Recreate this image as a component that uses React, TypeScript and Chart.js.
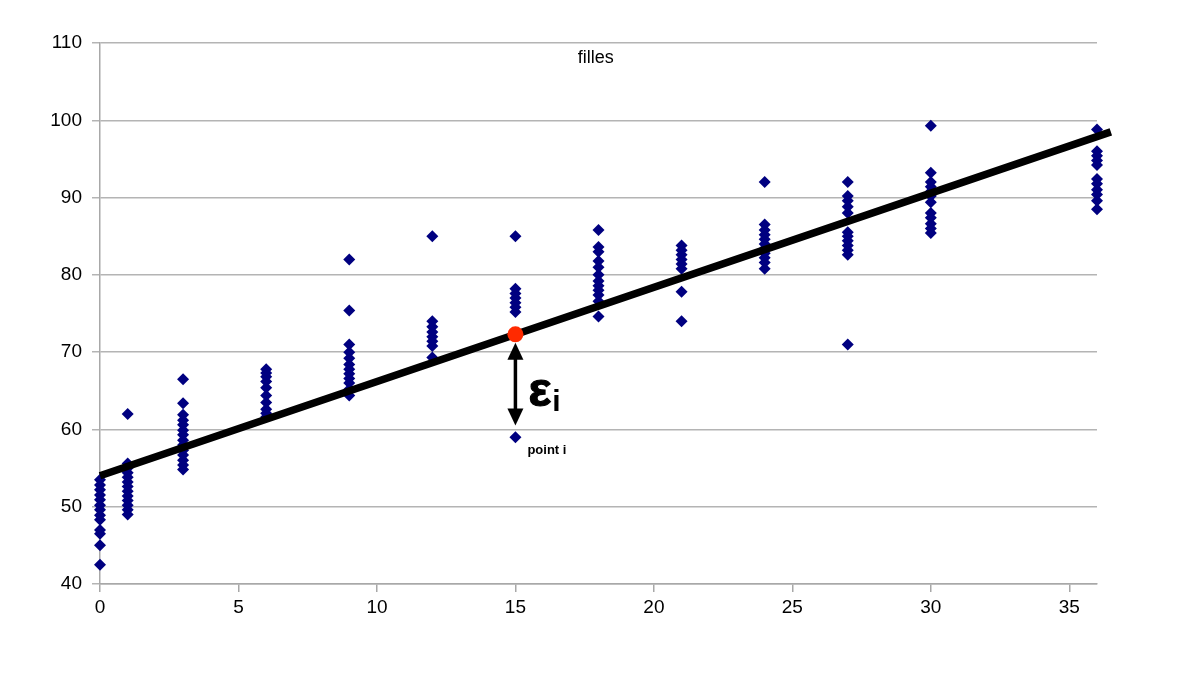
import React, { useEffect, useRef } from "react";
import { Chart, registerables } from "chart.js";

Chart.register(...registerables);

// ---- Data ----
const xLevels = [0, 1, 3, 6, 9, 12, 15, 18, 21, 24, 27, 30, 36];
const col0 = [53.5, 52.8, 52.2, 51.5, 50.9, 50.2, 49.6, 48.9, 48.3, 47.0, 46.5, 45.0, 42.5];
const col1 = [62.0, 55.6, 55.0, 54.4, 53.8, 53.2, 52.6, 52.0, 51.4, 50.8, 50.2, 49.6, 49.0];
const col3 = [66.5, 63.4, 61.9, 61.2, 60.6, 59.9, 59.3, 58.6, 58.0, 57.3, 56.7, 56.0, 55.4, 54.8];
const col6 = [67.8, 67.3, 66.8, 66.2, 65.4, 64.4, 63.5, 62.6, 62.1, 61.6];
const col9 = [82.0, 75.4, 71.0, 70.0, 69.2, 68.4, 67.8, 67.2, 66.6, 66.0, 65.2, 64.4];
const col12 = [85.0, 74.0, 73.3, 72.6, 72.0, 71.4, 70.8, 69.3];
const col15 = [85.0, 78.2, 77.6, 77.0, 76.4, 75.8, 75.2, 59.0];
const col18 = [85.8, 83.6, 83.0, 81.8, 81.0, 80.0, 79.2, 78.6, 78.0, 77.4, 76.6, 74.6];
const col21 = [83.8, 83.2, 82.6, 82.0, 81.4, 80.8, 77.8, 74.0];
const col24 = [92.0, 86.5, 85.8, 85.2, 84.6, 84.0, 83.4, 82.8, 82.2, 81.6, 80.8];
const col27 = [92.0, 90.2, 89.6, 88.8, 88.0, 85.5, 85.0, 84.4, 83.8, 83.2, 82.6, 71.0];
const col30 = [99.3, 93.2, 92.0, 91.4, 90.8, 90.2, 89.4, 88.0, 87.4, 86.6, 86.0, 85.4];
const col36 = [98.8, 96.0, 95.4, 94.8, 94.2, 92.4, 91.8, 91.0, 90.4, 89.6, 88.5];
const columns = [col0, col1, col3, col6, col9, col12, col15, col18, col21, col24, col27, col30, col36];

// regression line endpoints
const lineX = [0, 36.5];
const lineY = [54.0, 98.5];

// highlighted point on the line and the residual arrow
const fitPointX = [15];
const fitPointY = [72.3];
const arrowTopY = 71.2;
const arrowBottomY = 60.5;

const chartTitle = "filles";
const epsLabel = "ε";
const epsSub = "i";
const pointLabel = "point i";

const xTickValues = [0, 5, 10, 15, 20, 25, 30, 35];

const FONT = "'Liberation Sans', Arial, sans-serif";

const annotationPlugin = {
  id: "annotations",
  afterDatasetsDraw(chart: any) {
    const { ctx, scales } = chart;
    const xs = scales.x;
    const ys = scales.y;
    const px = xs.getPixelForValue(fitPointX[0]);
    const yTop = ys.getPixelForValue(arrowTopY);
    const yBot = ys.getPixelForValue(arrowBottomY);
    ctx.save();
    ctx.strokeStyle = "#000";
    ctx.fillStyle = "#000";
    ctx.lineWidth = 3.5;
    ctx.beginPath();
    ctx.moveTo(px, yTop + 12);
    ctx.lineTo(px, yBot - 12);
    ctx.stroke();
    ctx.beginPath();
    ctx.moveTo(px, yTop);
    ctx.lineTo(px - 8, yTop + 17);
    ctx.lineTo(px + 8, yTop + 17);
    ctx.closePath();
    ctx.fill();
    ctx.beginPath();
    ctx.moveTo(px, yBot);
    ctx.lineTo(px - 8, yBot - 17);
    ctx.lineTo(px + 8, yBot - 17);
    ctx.closePath();
    ctx.fill();
    const midY = (yTop + yBot) / 2;
    ctx.textBaseline = "alphabetic";
    ctx.textAlign = "left";
    ctx.font = `bold 48px ${FONT}`;
    ctx.lineWidth = 1.2;
    ctx.fillText(epsLabel, px + 13, midY + 22);
    ctx.strokeText(epsLabel, px + 13, midY + 22);
    const w = ctx.measureText(epsLabel).width;
    ctx.font = `bold 30px ${FONT}`;
    ctx.fillText(epsSub, px + 13 + w + 1, midY + 27);
    const py = ys.getPixelForValue(col15[col15.length - 1]);
    ctx.font = `bold 13px ${FONT}`;
    ctx.fillText(pointLabel, px + 12, py + 17);
    ctx.font = `18px ${FONT}`;
    ctx.textAlign = "center";
    ctx.fillText(chartTitle, xs.getPixelForValue(17.9), ys.getPixelForValue(110) + 20);
    ctx.restore();
  },
};

export default function App() {
  const ref = useRef<HTMLCanvasElement>(null);
  useEffect(() => {
    document.body.style.margin = "0";
    const scatterPts: { x: number; y: number }[] = [];
    xLevels.forEach((x, i) => columns[i].forEach((y) => scatterPts.push({ x, y })));
    const chart = new Chart(ref.current!, {
      type: "scatter",
      data: {
        datasets: [
          {
            type: "scatter",
            data: fitPointX.map((x, i) => ({ x, y: fitPointY[i] })),
            pointStyle: "circle",
            pointRadius: 8,
            backgroundColor: "#ff2a00",
            borderWidth: 0,
            clip: false,
            order: 0,
          } as any,
          {
            type: "line",
            data: lineX.map((x, i) => ({ x, y: lineY[i] })),
            borderColor: "#000",
            borderWidth: 7.5,
            pointRadius: 0,
            fill: false,
            clip: false,
            order: 1,
          } as any,
          {
            type: "scatter",
            data: scatterPts,
            pointStyle: "rectRot",
            pointRadius: 6,
            backgroundColor: "#000080",
            borderColor: "#000080",
            borderWidth: 0,
            clip: false,
            order: 2,
          } as any,
        ],
      },
      options: {
        animation: false,
        responsive: false,
        maintainAspectRatio: false,
        layout: { padding: { top: 43, right: 81, left: 0, bottom: 0 } },
        plugins: { legend: { display: false }, tooltip: { enabled: false } },
        scales: {
          x: {
            type: "linear",
            min: 0,
            max: 36,
            afterBuildTicks: (scale: any) => {
              scale.ticks = xTickValues.map((v) => ({ value: v }));
            },
            afterFit: (scale: any) => {
              scale.height = 110;
            },
            ticks: {
              color: "#000",
              font: { family: FONT, size: 19 },
              padding: 4,
              maxRotation: 0,
            },
            grid: {
              drawOnChartArea: false,
              drawTicks: true,
              tickLength: 8,
              color: "#a8a8a8",
              lineWidth: 1.5,
            },
            border: { display: true, color: "#a8a8a8", width: 1.5 },
          },
          y: {
            type: "linear",
            min: 40,
            max: 110,
            afterFit: (scale: any) => {
              scale.width = 100;
            },
            ticks: {
              stepSize: 10,
              color: "#000",
              font: { family: FONT, size: 19 },
              padding: 10,
            },
            grid: {
              drawOnChartArea: true,
              drawTicks: true,
              tickLength: 8,
              color: "#b4b4b4",
              lineWidth: 1.5,
            },
            border: { display: true, color: "#a8a8a8", width: 1.5 },
          },
        },
      },
      plugins: [annotationPlugin],
    } as any);
    return () => chart.destroy();
  }, []);
  return (
    <div style={{ width: 1178, height: 694 }}>
      <canvas ref={ref} width={1178} height={694} style={{ display: "block" }} />
    </div>
  );
}
